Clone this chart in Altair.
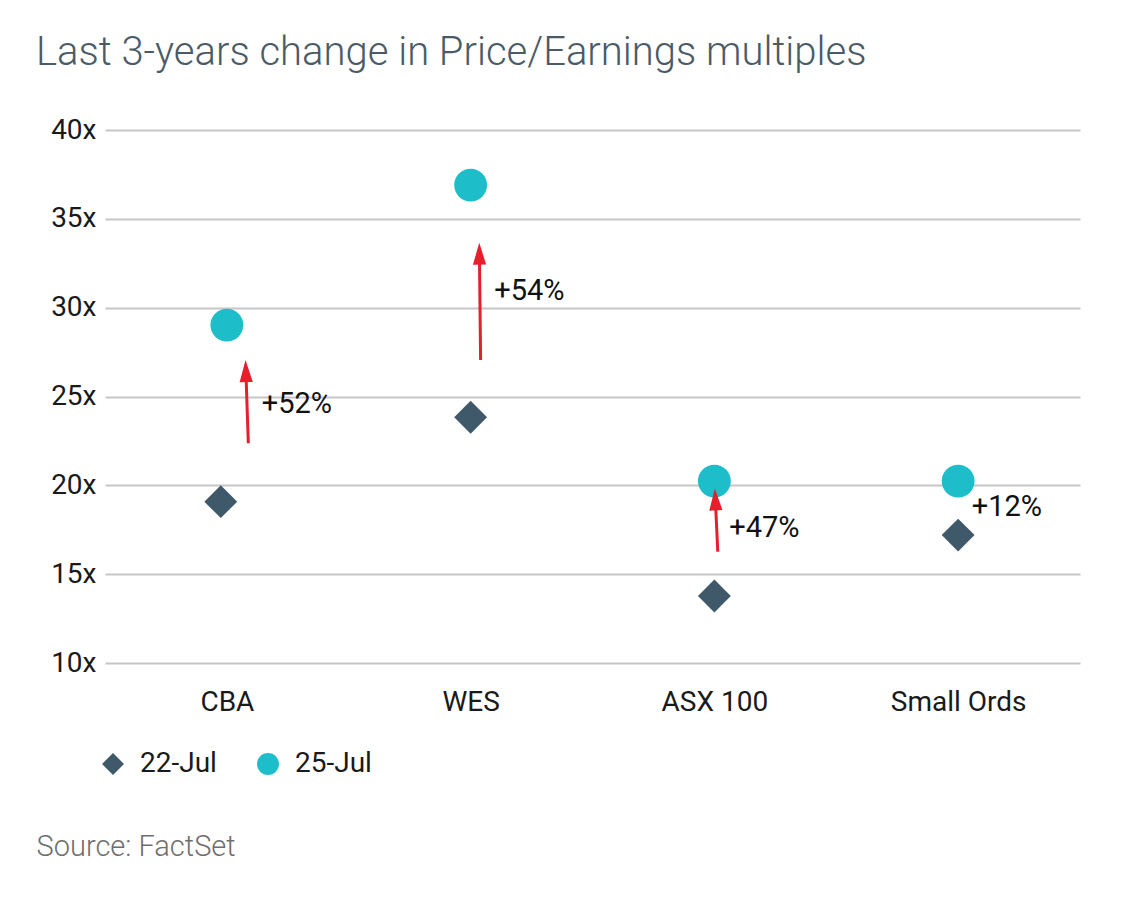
import altair as alt
import pandas as pd

categories = ["CBA", "WES", "ASX 100", "Small Ords"]
cat_pos = [0.5, 1.5, 2.5, 3.5]
pe_22jul = [19.08, 23.83, 13.77, 17.2]
pe_25jul = [29.02, 36.9, 20.24, 20.24]
nudge_22jul = [-0.025, 0.0, 0.0, 0.0]
series = ["22-Jul", "25-Jul"]

change_labels = ["+52%", "+54%", "+47%", "+12%"]
label_x = [0.643, 1.597, 2.561, 3.556]
label_y = [24.58, 30.94, 17.58, 18.8]

arrow_x_tail = [0.588, 1.541, 2.514]
arrow_x_head = [0.578, 1.536, 2.504]
arrow_y_tail = [22.37, 27.05, 16.26]
arrow_y_head = [26.43, 33.04, 19.21]
arrow_angle = [358.2, 359.3, 357.5]

pts = pd.DataFrame(
    [{"x": p + n, "pe": v, "date": series[0]} for p, n, v in zip(cat_pos, nudge_22jul, pe_22jul)]
    + [{"x": p, "pe": v, "date": series[1]} for p, v in zip(cat_pos, pe_25jul)]
)
arrows = pd.DataFrame({"x": arrow_x_tail, "x2": arrow_x_head, "y": arrow_y_tail,
                       "y2": arrow_y_head, "angle": arrow_angle})
labels = pd.DataFrame({"x": label_x, "y": label_y, "t": change_labels})

FONT = "Roboto"
label_expr = " : ".join(
    [f"datum.value < {p + 0.5} ? '{c}'" for p, c in zip(cat_pos[:-1], categories[:-1])]
) + f" : '{categories[-1]}'"

x_scale = alt.Scale(domain=[0, 4], nice=False, zero=False)
y_scale = alt.Scale(domain=[10, 40], nice=False, zero=False)

x_enc = alt.X("x:Q", scale=x_scale, axis=alt.Axis(
    values=cat_pos, labelExpr=label_expr, grid=False, ticks=False, domain=False,
    labelFontSize=28, labelColor="#1a1a1a", labelPadding=25, labelFont=FONT,
    title="Source: FactSet", titleFont=FONT, titleFontSize=29, titleFontWeight=300,
    titleColor="#6e6e6e", titleAlign="left", titleBaseline="alphabetic",
    titleX=-69, titleY=192, labelFlush=False))
y_enc = alt.Y("pe:Q", scale=y_scale, axis=alt.Axis(
    values=[10, 15, 20, 25, 30, 35, 40], labelExpr="datum.value + 'x'",
    grid=True, gridColor="#c6c6c6", gridWidth=2, ticks=False, domain=False,
    labelFontSize=28, labelColor="#1a1a1a", labelPadding=9, labelFont=FONT, title=None))

leg = alt.Legend(title=None, orient="none", legendX=-6, legendY=620,
                 direction="horizontal", symbolSize=480,
                 labelFontSize=28, labelFont=FONT, labelColor="#1a1a1a",
                 labelOffset=13, columnPadding=37, padding=0)

points = alt.Chart(pts).mark_point(filled=True, opacity=1, size=1080).encode(
    x=x_enc,
    y=y_enc,
    shape=alt.Shape("date:N", scale=alt.Scale(domain=series, range=["diamond", "circle"]),
                    legend=leg),
    color=alt.Color("date:N", scale=alt.Scale(domain=series, range=["#3f596a", "#1dbdc9"]),
                    legend=leg),
)

arrow_lines = alt.Chart(arrows).mark_rule(color="#e3202b", strokeWidth=3).encode(
    x=alt.X("x:Q", scale=x_scale), x2="x2:Q",
    y=alt.Y("y:Q", scale=y_scale), y2="y2:Q")

arrow_heads = alt.Chart(arrows).mark_point(
    filled=True, opacity=1, color="#e3202b", size=484, shape="M0,-1L-0.6,1L0.6,1Z").encode(
    x=alt.X("x2:Q", scale=x_scale), y=alt.Y("y2:Q", scale=y_scale),
    angle=alt.Angle("angle:Q", scale=None))

texts = alt.Chart(labels).mark_text(align="left", baseline="middle", fontSize=29,
                                    font=FONT, color="#111111").encode(
    x=alt.X("x:Q", scale=x_scale), y=alt.Y("y:Q", scale=y_scale), text="t:N")

chart = alt.layer(points, arrow_lines, arrow_heads, texts).properties(
    width=975, height=533,
    autosize=alt.AutoSizeParams(type="none"),
    padding={"left": 97, "top": 122, "right": 46, "bottom": 250},
    title=alt.Title("Last 3-years change in Price/Earnings multiples", anchor="start",
                    font=FONT, fontSize=40, fontWeight=300, color="#4a5b67",
                    dx=-69, baseline="alphabetic", offset=11, frame="group"),
).configure(background="white").configure_view(strokeWidth=0)

chart.save("out.html", embed_options={"renderer": "svg", "actions": False})
